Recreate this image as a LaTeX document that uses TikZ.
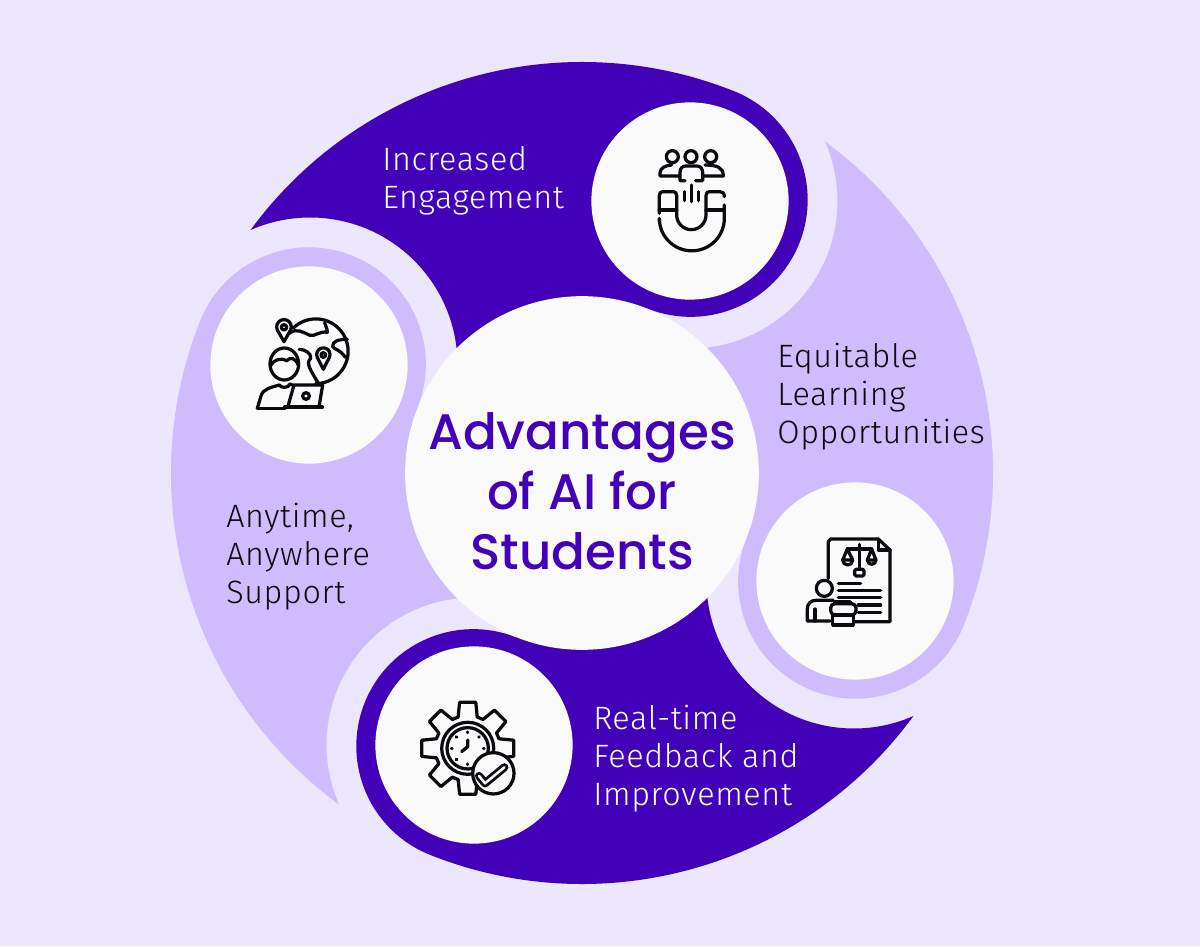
\documentclass[tikz,border=0pt]{standalone}
\usepackage{fontspec}
\usetikzlibrary{calc}
\newfontfamily\titlefont{Poppins Medium}
\newfontfamily\labelfont[LetterSpace=2]{Fira Sans Light}
\definecolor{pagebg}{RGB}{236,230,255}
\definecolor{bladedark}{RGB}{67,0,185}
\definecolor{bladelight}{RGB}{207,188,253}
\definecolor{discwhite}{RGB}{250,250,250}
\definecolor{inkblack}{RGB}{10,10,15}

\begin{document}
\begin{tikzpicture}[
  x=0.025cm, y=0.025cm,
  disc/.style={circle, fill=discwhite, minimum size=4.93cm, inner sep=0},
  hub/.style={circle, fill=discwhite, minimum size=8.84cm, inner sep=0},
  title/.style={text=bladedark, align=center, inner sep=0, font=\titlefont\fontsize{35.5}{42.7}\selectfont},
  label/.style={anchor=west, align=left, inner sep=0, font=\labelfont\fontsize{23}{27}\selectfont},
  icon/.style={draw=inkblack, line width=2.3pt, line cap=round, line join=round}
]

\useasboundingbox (-582,-473) rectangle (618,473);
\fill[pagebg] (-582,-473) rectangle (618,473);

% The four blades
\foreach \ang/\col in {0/bladedark, -90/bladelight, 180/bladedark, 90/bladelight}{
  \fill[\col, rotate=\ang] (143.8:411) arc[start angle=143.8, end angle=68.3, radius=411]
    arc[start angle=68.3, end angle=-111.7, radius=117] -- (0,0)
    -- ($(-272,108)+(-5:147.5)$) arc[start angle=-5, end angle=113.6, radius=147.5] -- cycle;
}

\node[hub] (hub) at (0,0) {};
\node[disc] (magnet) at (108,272) {};
\node[disc] (doc) at (273,-108) {};
\node[disc] (gear) at (-108,-272) {};
\node[disc] (globe) at (-273,108) {};

\node[title] (head) at (0,-18) {Advantages\\of AI for\\Students};
\node[label, text=white] (engage) at (-200,292) {Increased\\Engagement};
\node[label, text=inkblack] (equit) at (195,76) {Equitable\\Learning\\Opportunities};
\node[label, text=white] (feedback) at (11,-286) {Real-time\\Feedback and\\Improvement};
\node[label, text=inkblack] (anytime) at (-356,-84) {Anytime,\\Anywhere\\Support};

% Magnet icon
\begin{scope}[shift={(48,343)}, scale=1/3, yscale=-1]
  \foreach \hx in {127,183,242}{ \draw[icon] (\hx,80) circle[radius=18]; }
  \draw[icon] (148,138) -- (90,138) -- (90,128) .. controls (92,112) and (108,106) .. (125,105);
  \draw[icon] (225,105) .. controls (262,106) and (280,112) .. (280,138) -- (222,138);
  \draw[icon] (165,152) -- (150,152) -- (150,128) .. controls (150,114) and (158,108) .. (168,108)
    -- (200,108) .. controls (212,108) and (218,116) .. (218,128) -- (218,152) -- (197,152);
  \draw[icon] (185,165) -- (185,215);
  \draw[icon] (163,185) -- (163,212);
  \draw[icon] (205,185) -- (205,212);
  \draw[icon] (88,250) -- (88,197) .. controls (88,189) and (92,185) .. (98,185) -- (130,185)
    .. controls (136,185) and (140,189) .. (140,197) -- (140,255)
    arc[start angle=180, end angle=0, radius=44] -- (228,197)
    .. controls (228,189) and (232,185) .. (238,185) -- (270,185)
    .. controls (278,185) and (283,190) .. (283,200);
  \draw[icon] (88,240) -- (140,240);
  \draw[icon] (228,240) -- (283,240);
  \draw[icon] (283,225) -- (283,265) arc[start angle=0, end angle=180, radius=97.5] -- (88,275);
\end{scope}

% Globe icon
\begin{scope}[shift={(-342,173)}, scale=1/3, yscale=-1]
  \draw[icon] (132,125) -- (112,90) arc[start angle=155, end angle=385, radius=22] -- cycle;
  \draw[icon] (132,82) circle[radius=8];
  \draw[icon] (160,84) arc[start angle=-134, end angle=90, radius=97] ;
  \draw[icon] (148,100) .. controls (170,82) and (190,98) .. (210,106)
    .. controls (225,110) and (240,92) .. (262,97) .. controls (262,85) and (256,78) .. (254,68);
  \draw[icon] (322,118) .. controls (300,118) and (275,122) .. (278,140)
    .. controls (285,150) and (300,148) .. (316,172);
  \draw[icon] (178,148) .. controls (195,148) and (215,160) .. (212,175)
    .. controls (195,190) and (215,215) .. (235,250);
  \filldraw[icon, fill=discwhite] (250,208) -- (232,172) arc[start angle=155, end angle=385, radius=20] -- cycle;
  \draw[icon] (250,165) circle[radius=7];
  \filldraw[icon, fill=discwhite] (133,192) ellipse[x radius=43, y radius=48];
  \draw[icon] (92,196) .. controls (102,180) and (120,172) .. (140,182) .. controls (150,172) and (165,170) .. (175,196);
  \draw[icon] (52,325) -- (63,288) .. controls (70,265) and (95,262) .. (118,255)
    .. controls (122,264) and (145,266) .. (150,252) -- (160,256);
  \filldraw[icon, fill=discwhite] (145,315) -- (162,255) -- (248,255) -- (238,315);
  \draw[icon] (198,288) circle[radius=10];
  \draw[icon] (52,325) -- (135,325);
  \draw[icon, line width=3pt] (135,322) -- (246,322);
\end{scope}

% Document icon
\begin{scope}[shift={(208,-52)}, scale=1/3, yscale=-1]
  \draw[icon] (115,160) -- (115,50) -- (122,42) -- (265,42) -- (300,75) -- (300,290) -- (195,290);
  \draw[icon] (265,42) -- (265,75) -- (300,75);
  \draw[icon] (208,58) -- (208,130);
  \draw[icon] (172,72) -- (245,72);
  \draw[icon] (172,72) -- (158,105) -- (188,105) -- cycle;
  \draw[icon] (245,72) -- (232,105) -- (258,105) -- cycle;
  \draw[icon] (158,105) arc[start angle=180, end angle=0, radius=15];
  \draw[icon] (232,105) arc[start angle=180, end angle=0, radius=13];
  \draw[icon, rounded corners=1pt] (194,133) rectangle (222,153);
  \foreach \lx/\rx/\ly in {145/212/175, 145/272/197, 145/272/218, 205/272/240, 205/272/262}{
    \draw[icon] (\lx,\ly) -- (\rx,\ly);
  }
  \draw[icon] (103,190) circle[radius=24];
  \draw[icon] (120,288) -- (52,288) -- (52,252) .. controls (52,236) and (62,226) .. (78,226) -- (130,226);
  \draw[icon] (75,252) -- (75,288);
  \filldraw[icon, fill=discwhite, rounded corners=3pt] (122,236) rectangle (198,270);
  \draw[icon] (135,236) -- (135,230) -- (180,230) -- (180,236);
  \filldraw[icon, fill=discwhite] (128,270) rectangle (190,300);
\end{scope}

% Gear icon
\begin{scope}[shift={(-114.3,-275.3)}, scale=1/3, yscale=-1]
  \draw[icon] (-17:98) \foreach \k in {0,45,...,315}{
    -- (\k-17:98) -- (\k-10:140) -- (\k+10:140) -- (\k+17:98)
  } -- cycle;
  \draw[icon] (0,0) circle[radius=78];
  \draw[icon] (0,0) circle[radius=62];
  \foreach \k in {0,45,...,315}{ \draw[icon] (\k:47) -- (\k:49); }
  \draw[icon] (0,-25) -- (0,-5) -- (-18,10);
  \filldraw[icon, fill=discwhite] (77,75) circle[radius=62];
  \draw[inkblack, line width=5.8pt, line join=round, line cap=round] (34,83) -- (52,105) -- (110,57);
  \draw[discwhite, line width=1.8pt, line join=round, line cap=round] (34,83) -- (52,105) -- (110,57);
\end{scope}

\end{tikzpicture}
\end{document}
